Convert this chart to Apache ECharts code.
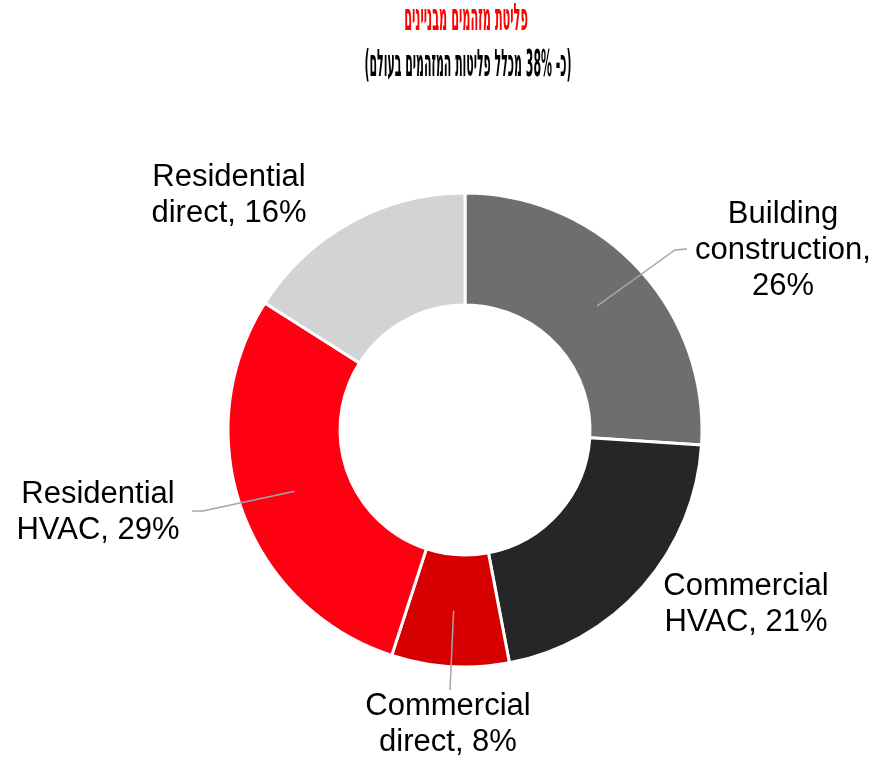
<!DOCTYPE html>
<html>
<head>
<meta charset="utf-8">
<script src="https://cdn.jsdelivr.net/npm/echarts@6/dist/echarts.min.js"></script>
<style>
    html, body { margin: 0; padding: 0; background: #fff; }
    #main { width: 879px; height: 760px; }
</style>
</head>
<body>
<div id="main"></div>
<script>
// פליטת מזהמים מבניינים
var titleText = 'פליטת מזהמים מבניינים';
var subtitleText = '(כ- 38% מכלל פליטות המזהמים בעולם)';
var categories = ['Building construction', 'Commercial HVAC', 'Commercial direct', 'Residential HVAC', 'Residential direct'];
var values = [26, 21, 8, 29, 16];
var colors = ['#6e6e6e', '#262626', '#d60000', '#ff0013', '#d3d3d3'];

var center = [465, 430];
var radius = [125, 237];
// where each label sits, and the bend of its leader line (null = no line)
var labelPos = [[783, 250], [746, 604], [448, 724], [98, 512], [229, 195]];
var leaderBend = [[[675, 250], [687, 249]], null, [[450, 690]], [[203, 511], [192, 511]], null];

var total = values.reduce(function (a, b) { return a + b; }, 0);

// start of leader line: middle of the ring at the slice's mid angle
function midPoint (i) {
    var before = 0;
    for (var k = 0; k < i; k++) before += values[k];
    var ang = (before + values[i] / 2) / total * Math.PI * 2;
    var r = (radius[0] + radius[1]) / 2;
    return [center[0] + r * Math.sin(ang), center[1] - r * Math.cos(ang)];
}

var graphics = [{
    type: 'text',
    x: 466,
    y: 20,
    scaleX: 0.33,
    style: {
        text: titleText,
        x: 0,
        y: 0,
        align: 'center',
        verticalAlign: 'middle',
        fill: '#ff0000',
        font: 'bold 38px "DejaVu Sans Condensed"'
    }
}, {
    type: 'text',
    x: 468,
    y: 66,
    scaleX: 0.32,
    style: {
        text: subtitleText,
        x: 0,
        y: 0,
        align: 'center',
        verticalAlign: 'middle',
        fill: '#000',
        font: 'bold 38px "DejaVu Sans Condensed"'
    }
}];
leaderBend.forEach(function (bend, i) {
    if (!bend) return;
    graphics.push({
        type: 'polyline',
        z: 100,
        shape: {points: [midPoint(i)].concat(bend)},
        style: {stroke: '#a6a6a6', lineWidth: 1.5, fill: null}
    });
});

var myChart = echarts.init(document.getElementById('main'));
myChart.setOption({
    animation: false,
    graphic: graphics,
    series: [{
        type: 'pie',
        center: center,
        radius: radius,
        startAngle: 90,
        clockwise: true,
        avoidLabelOverlap: false,
        itemStyle: {
            borderColor: '#fff',
            borderWidth: 3
        },
        label: {
            show: true,
            position: 'outside',
            color: '#000',
            fontFamily: 'Liberation Sans',
            fontSize: 31,
            lineHeight: 36,
            align: 'center',
            formatter: function (p) {
                var name = p.name.replace(' ', '\n');
                return name + ',' + (p.name.length > 20 ? '\n' : ' ') + p.value + '%';
            }
        },
        labelLine: {
            show: false
        },
        labelLayout: function (params) {
            var i = params.dataIndex;
            return {
                x: labelPos[i][0],
                y: labelPos[i][1],
                align: 'center',
                verticalAlign: 'middle'
            };
        },
        data: categories.map(function (name, i) {
            return {
                name: name,
                value: values[i],
                itemStyle: {color: colors[i]}
            };
        })
    }]
});
</script>
</body>
</html>
